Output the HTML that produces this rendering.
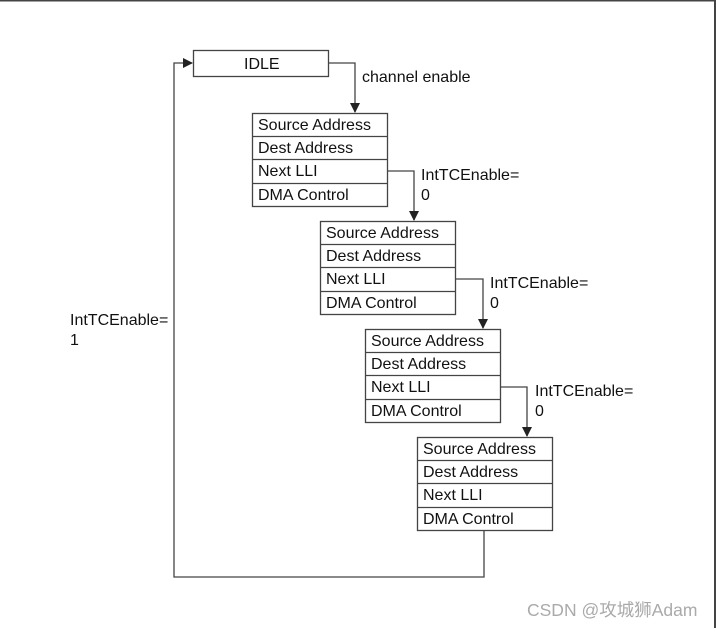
<!DOCTYPE html>
<html><head><style>
body{margin:0;background:#fff}
svg text{font-family:"Liberation Sans",Arial,sans-serif;font-size:16px;fill:#111}
</style></head><body>
<svg width="716" height="628" xmlns="http://www.w3.org/2000/svg">
<defs><marker id="a" markerWidth="10" markerHeight="10" refX="9" refY="5" orient="auto" markerUnits="userSpaceOnUse"><path d="M0,0 L10,5 L0,10 z" fill="#222"/></marker></defs>
<line x1="0" y1="0.5" x2="716" y2="0.5" stroke="#444" stroke-width="2"/>
<line x1="715" y1="0" x2="715" y2="628" stroke="#444" stroke-width="2"/>
<g fill="none" stroke="#444" stroke-width="1.3">
<rect x="193.5" y="50.5" width="135" height="26"/>
<path d="M329 63H355V112" marker-end="url(#a)"/>
<path d="M387 171H414V220" marker-end="url(#a)"/>
<path d="M455 279H483V328" marker-end="url(#a)"/>
<path d="M500 387H527V436" marker-end="url(#a)"/>
<path d="M484 530V577H174V63H192" marker-end="url(#a)"/>
</g>
<text x="244" y="69">IDLE</text>
<text x="362" y="82">channel enable</text>
<text x="421" y="180">IntTCEnable=</text><text x="421" y="200">0</text>
<text x="490" y="288">IntTCEnable=</text><text x="490" y="308">0</text>
<text x="535" y="396">IntTCEnable=</text><text x="535" y="416">0</text>
<text x="70" y="325">IntTCEnable=</text><text x="70" y="345">1</text>

<g transform="translate(252,113)">
<g fill="none" stroke="#444" stroke-width="1.3"><rect x="0.5" y="0.5" width="135" height="93"/><line x1="0" y1="23.5" x2="136" y2="23.5"/><line x1="0" y1="46.5" x2="136" y2="46.5"/><line x1="0" y1="70.5" x2="136" y2="70.5"/></g>
<text x="6" y="17">Source Address</text><text x="6" y="40">Dest Address</text><text x="6" y="63">Next LLI</text><text x="6" y="87">DMA Control</text>
</g>
<g transform="translate(320,221)">
<g fill="none" stroke="#444" stroke-width="1.3"><rect x="0.5" y="0.5" width="135" height="93"/><line x1="0" y1="23.5" x2="136" y2="23.5"/><line x1="0" y1="46.5" x2="136" y2="46.5"/><line x1="0" y1="70.5" x2="136" y2="70.5"/></g>
<text x="6" y="17">Source Address</text><text x="6" y="40">Dest Address</text><text x="6" y="63">Next LLI</text><text x="6" y="87">DMA Control</text>
</g>
<g transform="translate(365,329)">
<g fill="none" stroke="#444" stroke-width="1.3"><rect x="0.5" y="0.5" width="135" height="93"/><line x1="0" y1="23.5" x2="136" y2="23.5"/><line x1="0" y1="46.5" x2="136" y2="46.5"/><line x1="0" y1="70.5" x2="136" y2="70.5"/></g>
<text x="6" y="17">Source Address</text><text x="6" y="40">Dest Address</text><text x="6" y="63">Next LLI</text><text x="6" y="87">DMA Control</text>
</g>
<g transform="translate(417,437)">
<g fill="none" stroke="#444" stroke-width="1.3"><rect x="0.5" y="0.5" width="135" height="93"/><line x1="0" y1="23.5" x2="136" y2="23.5"/><line x1="0" y1="46.5" x2="136" y2="46.5"/><line x1="0" y1="70.5" x2="136" y2="70.5"/></g>
<text x="6" y="17">Source Address</text><text x="6" y="40">Dest Address</text><text x="6" y="63">Next LLI</text><text x="6" y="87">DMA Control</text>
</g>
<text x="527" y="616" style="font-family:'Liberation Sans','Noto Sans CJK SC',sans-serif;font-size:17.5px;fill:#aaa">CSDN @攻城狮Adam</text>
</svg>
</body></html>
